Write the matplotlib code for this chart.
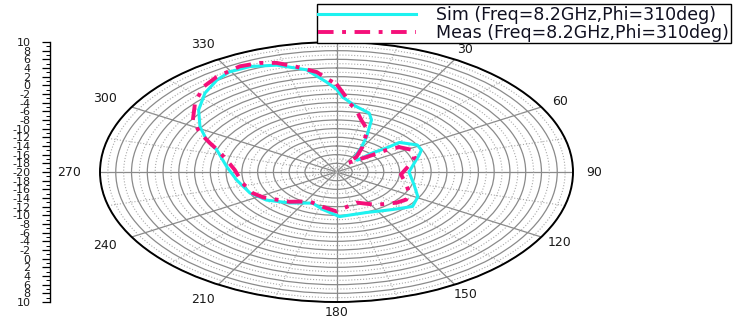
import numpy as np
import matplotlib
matplotlib.use('Agg')
import matplotlib.pyplot as plt
from matplotlib.ticker import FixedLocator, MultipleLocator

# radiation pattern cuts, angle in deg (clockwise from top), gain in dB
sim_theta = [2.6, 9.0, 17.0, 20.3, 25.3, 28.7, 35.0, 44.0, 46.0, 48.8, 49.5, 58.7, 64.8, 69.5,
             78.0, 90.0, 107.0, 119.0, 129.5, 140.7, 157.8, 177.9, 191.6, 203.0, 219.8, 233.9,
             246.2, 261.7, 275.2, 288.5, 294.0, 301.0, 309.3, 317.5, 324.5, 329.6, 335.7, 342.9,
             350.8, 356.5, 360.0]
sim_gain = [-2.7, -4.6, -5.8, -7.2, -11.1, -13.4, -16.0, -16.2, -13.7, -11.6, -9.5, -8.0, -8.1, -8.8,
            -9.9, -10.8, -9.7, -8.2, -7.5, -8.8, -9.9, -9.7, -11.2, -12.2, -10.7, -9.0,
            -8.0, -7.2, -6.0, -4.0, -2.0, 0.2, 2.6, 4.7, 6.1, 6.8, 6.7, 5.8,
            3.9, 0.8, -0.9]

meas_theta = [0.0, 3.3, 5.9, 10.0, 14.7, 22.0, 29.8, 36.0, 33.7, 47.8, 51.3, 54.2, 62.2, 70.7,
              80.0, 94.0, 108.0, 117.7, 125.7, 132.9, 146.4, 160.3, 180.0, 192.6, 206.7, 221.0,
              237.9, 245.4, 258.0, 272.0, 281.2, 288.6, 292.6, 297.4, 303.3, 311.6, 319.2, 325.3,
              333.3, 338.8, 343.2, 348.2, 353.8, 357.6]
meas_gain = [0.3, -2.2, -4.0, -5.5, -7.6, -9.5, -13.4, -15.7, -17.5, -14.9, -11.9, -10.2, -9.1, -9.5,
             -10.6, -11.8, -10.7, -9.6, -9.1, -9.6, -10.9, -12.5, -10.9, -11.8, -12.4, -10.9,
             -9.0, -8.3, -7.8, -7.1, -5.8, -4.1, -2.6, -0.5, 1.8, 4.0, 5.9, 6.7,
             7.3, 7.0, 6.3, 4.8, 3.2, 1.2]

angle_labels = ['0', '30', '60', '90', '120', '150', '180', '210', '240', '270', '300', '330']
r_min, r_max = -20, 10

W, H = 734, 322
fig = plt.figure(figsize=(W / 100, H / 100), dpi=100)

# polar axes stretched into an ellipse
ax = fig.add_axes([100 / W, 20 / H, 473 / W, 260 / H], projection='polar')
ax.set_aspect('auto')
ax.set_theta_zero_location('N')
ax.set_theta_direction(-1)
ax.set_rlim(r_min, r_max)

ax.set_rticks(np.arange(r_min, r_max + 1, 2))
ax.yaxis.set_minor_locator(MultipleLocator(1))
ax.set_yticklabels([])
ax.set_xticks(np.deg2rad(np.arange(0, 360, 30)))
ax.set_xticklabels([])
ax.xaxis.set_minor_locator(FixedLocator(np.deg2rad(np.arange(15, 360, 30))))
ax.grid(True, which='major', color='#8a8a8a', linewidth=0.9, linestyle='-')
ax.grid(True, which='minor', color='#aaaaaa', linewidth=0.8, linestyle=':')
ax.tick_params(axis='x', which='major', direction='in', length=6, width=1, color='k')
ax.tick_params(axis='x', which='minor', direction='in', length=3, width=0.8, color='k')
ax.spines['polar'].set_linewidth(1.4)
ax.spines['polar'].set_color('black')

sim_t = np.deg2rad(sim_theta + [sim_theta[0]])
sim_r = sim_gain + [sim_gain[0]]
meas_t = np.deg2rad(meas_theta + [meas_theta[0]])
meas_r = meas_gain + [meas_gain[0]]

l1, = ax.plot(sim_t, sim_r, color='#1ef2f0', linewidth=2.2, zorder=4,
              label='Sim (Freq=8.2GHz,Phi=310deg)')
l2, = ax.plot(meas_t, meas_r, color='#f5107a', linewidth=2.8, zorder=5,
              dashes=[4, 2.2, 1, 2.2], label='Meas (Freq=8.2GHz,Phi=310deg)')

# angle labels outside the ring
for deg, lab in zip(range(0, 360, 30), angle_labels):
    if 0 < deg < 180:
        f = 1.09
    elif deg > 180:
        f = 1.13
    else:
        f = 1.08
    ax.text(np.deg2rad(deg), r_min + (r_max - r_min) * f, lab, fontsize=9, color='#1a1a1a',
            ha='center', va='center', clip_on=False)

# dB scale on the left, mirrored about the centre
sax = fig.add_axes([50 / W, 20 / H, 0.001, 260 / H])
sax.set_ylim(-(r_max - r_min), r_max - r_min)
pos = np.arange(-(r_max - r_min), r_max - r_min + 1, 2)
sax.set_yticks(pos)
sax.set_yticklabels([str(abs(p) + r_min) for p in pos])
sax.yaxis.set_minor_locator(MultipleLocator(1))
sax.set_xticks([])
for s in ['top', 'right', 'bottom']:
    sax.spines[s].set_visible(False)
sax.spines['left'].set_linewidth(1.0)
sax.tick_params(axis='y', which='major', length=6, width=0.9, labelsize=8, pad=8, labelcolor='#1a1a1a')
sax.tick_params(axis='y', which='minor', length=3, width=0.7)
sax.patch.set_visible(False)

leg = fig.legend(handles=[l1, l2], loc='upper right', bbox_to_anchor=(731 / W, 1 - 4 / H),
                 bbox_transform=fig.transFigure, fontsize=12.5, frameon=True, fancybox=False,
                 framealpha=1, edgecolor='black', borderpad=0.1, labelspacing=0.0,
                 handlelength=5.6, handletextpad=1.2, borderaxespad=0)
leg.get_frame().set_linewidth(1.0)
for t in leg.get_texts():
    t.set_color('#101020')

fig.savefig('out.png', dpi=100)
